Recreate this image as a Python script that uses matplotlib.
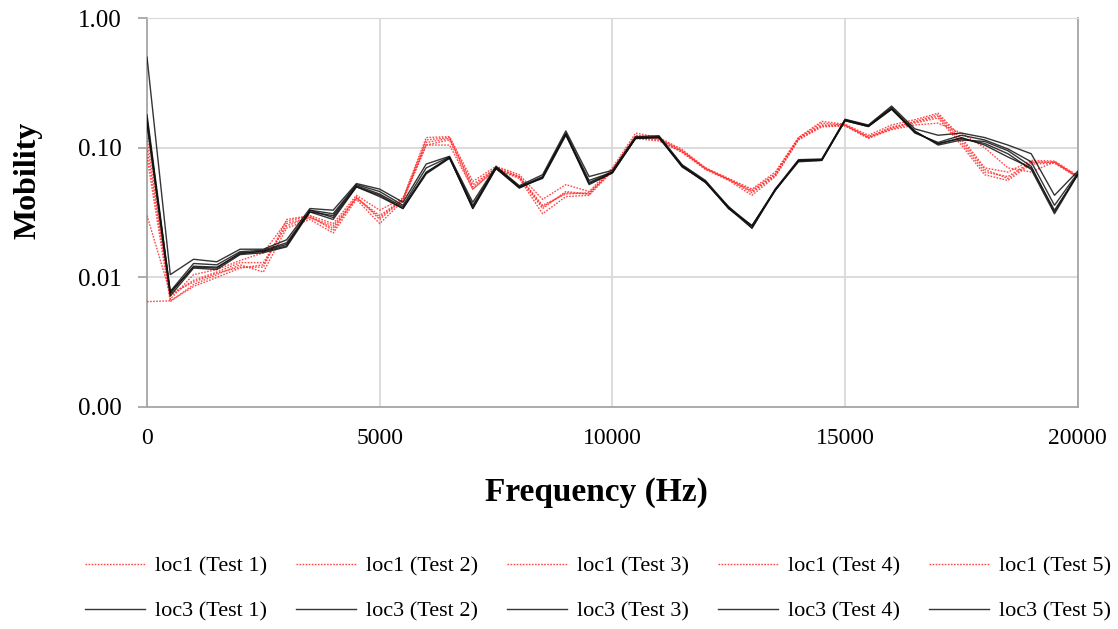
import matplotlib

matplotlib.use("Agg")
import matplotlib.pyplot as plt
from matplotlib.ticker import FixedLocator, FixedFormatter, NullLocator

plt.rcParams["font.family"] = ["Liberation Serif", "DejaVu Serif"]

# frequency axis, one reading every 500 Hz
freq_hz = [i * 500 for i in range(41)]

# loc1, five repeat tests (red dotted)
loc1_test1 = [0.12, 0.0068, 0.0105, 0.0115, 0.0135, 0.0155, 0.027, 0.030, 0.026, 0.043,
              0.033, 0.041, 0.12, 0.122, 0.055, 0.072, 0.062, 0.040, 0.052, 0.046,
              0.070, 0.13, 0.12, 0.097, 0.070, 0.058, 0.048, 0.065, 0.12, 0.16,
              0.152, 0.125, 0.15, 0.165, 0.185, 0.12, 0.070, 0.065, 0.080, 0.079, 0.061]
loc1_test2 = [0.10, 0.0072, 0.0095, 0.011, 0.013, 0.013, 0.025, 0.029, 0.024, 0.041,
              0.029, 0.040, 0.115, 0.12, 0.050, 0.070, 0.060, 0.035, 0.045, 0.044,
              0.068, 0.125, 0.118, 0.095, 0.069, 0.057, 0.046, 0.062, 0.118, 0.15,
              0.15, 0.12, 0.145, 0.158, 0.175, 0.11, 0.065, 0.060, 0.078, 0.077, 0.060]
loc1_test3 = [0.085, 0.0065, 0.0088, 0.0105, 0.0125, 0.011, 0.024, 0.028, 0.022, 0.040,
              0.026, 0.039, 0.105, 0.115, 0.048, 0.068, 0.058, 0.031, 0.042, 0.043,
              0.066, 0.12, 0.115, 0.092, 0.068, 0.056, 0.043, 0.060, 0.115, 0.145,
              0.148, 0.118, 0.14, 0.155, 0.17, 0.105, 0.062, 0.056, 0.075, 0.076, 0.059]
loc1_test4 = [0.030, 0.0075, 0.0092, 0.0108, 0.012, 0.012, 0.028, 0.030, 0.023, 0.042,
              0.028, 0.040, 0.11, 0.118, 0.052, 0.070, 0.060, 0.036, 0.044, 0.045,
              0.067, 0.122, 0.117, 0.094, 0.070, 0.057, 0.047, 0.063, 0.12, 0.155,
              0.15, 0.122, 0.142, 0.16, 0.18, 0.115, 0.068, 0.058, 0.077, 0.078, 0.060]
loc1_test5 = [0.0065, 0.0066, 0.0085, 0.010, 0.0118, 0.0125, 0.026, 0.029, 0.025, 0.041,
              0.030, 0.040, 0.105, 0.105, 0.048, 0.069, 0.059, 0.034, 0.046, 0.044,
              0.068, 0.118, 0.113, 0.093, 0.069, 0.057, 0.045, 0.061, 0.117, 0.148,
              0.148, 0.12, 0.138, 0.15, 0.155, 0.13, 0.10, 0.070, 0.065, 0.078, 0.059]

# loc3, five repeat tests (black solid)
loc3_test1 = [0.50, 0.0105, 0.0138, 0.0132, 0.0165, 0.0165, 0.0195, 0.034, 0.033, 0.053,
              0.048, 0.038, 0.075, 0.086, 0.038, 0.072, 0.051, 0.062, 0.135, 0.060,
              0.067, 0.122, 0.124, 0.074, 0.056, 0.035, 0.025, 0.048, 0.081, 0.082,
              0.166, 0.15, 0.21, 0.14, 0.125, 0.13, 0.12, 0.105, 0.090, 0.043, 0.066]
loc3_test2 = [0.18, 0.0078, 0.0128, 0.0125, 0.0158, 0.0162, 0.0185, 0.033, 0.031, 0.052,
              0.046, 0.036, 0.070, 0.085, 0.036, 0.071, 0.050, 0.060, 0.13, 0.056,
              0.065, 0.12, 0.122, 0.073, 0.055, 0.034, 0.025, 0.047, 0.080, 0.081,
              0.165, 0.148, 0.205, 0.135, 0.105, 0.115, 0.112, 0.095, 0.072, 0.032, 0.063]
loc3_test3 = [0.17, 0.0075, 0.0122, 0.012, 0.0152, 0.016, 0.018, 0.032, 0.030, 0.051,
              0.044, 0.035, 0.065, 0.084, 0.034, 0.070, 0.049, 0.059, 0.128, 0.053,
              0.064, 0.119, 0.121, 0.072, 0.054, 0.035, 0.024, 0.048, 0.079, 0.080,
              0.163, 0.147, 0.20, 0.132, 0.108, 0.118, 0.108, 0.090, 0.068, 0.031, 0.062]
loc3_test4 = [0.16, 0.0077, 0.012, 0.0118, 0.0155, 0.0158, 0.0175, 0.033, 0.029, 0.050,
              0.043, 0.034, 0.063, 0.083, 0.035, 0.070, 0.050, 0.058, 0.125, 0.054,
              0.065, 0.118, 0.12, 0.071, 0.055, 0.034, 0.025, 0.047, 0.080, 0.081,
              0.162, 0.146, 0.20, 0.13, 0.11, 0.125, 0.115, 0.098, 0.078, 0.036, 0.064]
loc3_test5 = [0.15, 0.0072, 0.0118, 0.0115, 0.015, 0.0155, 0.0172, 0.032, 0.028, 0.050,
              0.042, 0.034, 0.064, 0.084, 0.034, 0.069, 0.049, 0.059, 0.127, 0.052,
              0.064, 0.119, 0.12, 0.072, 0.054, 0.034, 0.024, 0.047, 0.078, 0.080,
              0.162, 0.146, 0.198, 0.133, 0.107, 0.12, 0.105, 0.085, 0.070, 0.033, 0.062]

loc1_runs = [loc1_test1, loc1_test2, loc1_test3, loc1_test4, loc1_test5]
loc3_runs = [loc3_test1, loc3_test2, loc3_test3, loc3_test4, loc3_test5]

y_ticks = [0.001, 0.01, 0.1, 1.0]
y_tick_labels = ["0.00", "0.01", "0.10", "1.00"]
x_ticks = [0, 5000, 10000, 15000, 20000]

fig = plt.figure(figsize=(11.18, 6.29), dpi=100)
ax = fig.add_axes([0.1315, 0.353, 0.8325, 0.618])

handles = []
for i, (r1, r3) in enumerate(zip(loc1_runs, loc3_runs), start=1):
    h1, = ax.plot(freq_hz, r1, color="#ff2a2a", lw=1.0, ls=(0, (1.2, 1.0)),
                  alpha=0.85, label=f"loc1 (Test {i})", zorder=3)
    h3, = ax.plot(freq_hz, r3, color="#111111", lw=1.0, alpha=0.85,
                  label=f"loc3 (Test {i})", zorder=4)
    # column-major legend fill: loc1 on top row, loc3 below
    handles += [h1, h3]

ax.set_yscale("log")
ax.set_ylim(0.001, 1.0)
ax.set_xlim(0, 20000)
ax.yaxis.set_major_locator(FixedLocator(y_ticks))
ax.yaxis.set_major_formatter(FixedFormatter(y_tick_labels))
ax.yaxis.set_minor_locator(NullLocator())
ax.set_xticks(x_ticks)
ax.set_xticklabels([str(v) for v in x_ticks])

ax.grid(True, color="#d9d9d9", lw=1.3)
ax.set_axisbelow(True)
for side in ("left", "bottom", "right"):
    ax.spines[side].set_color("#a6a6a6")
    ax.spines[side].set_linewidth(1.3)
ax.spines["top"].set_color("#d9d9d9")
ax.tick_params(axis="y", length=6.5, width=1.3, color="#a6a6a6", labelsize=18, pad=12)
ax.tick_params(axis="x", length=0, labelsize=17, pad=15)

fig.text(596 / 1118, 1 - 493 / 629, "Frequency (Hz)", fontsize=24,
         fontweight="bold", ha="center", va="center")
fig.text(28 / 1118, 1 - 180 / 629, "Mobility", fontsize=23,
         fontweight="bold", ha="center", va="center", rotation=90)

fig.legend(handles=handles, loc="center", bbox_to_anchor=(0.535, 1 - 589 / 629),
           ncol=5, frameon=False, fontsize=16, handlelength=2.7,
           handletextpad=0.45, columnspacing=1.3, labelspacing=1.1)

fig.savefig("out.png", dpi=100)
